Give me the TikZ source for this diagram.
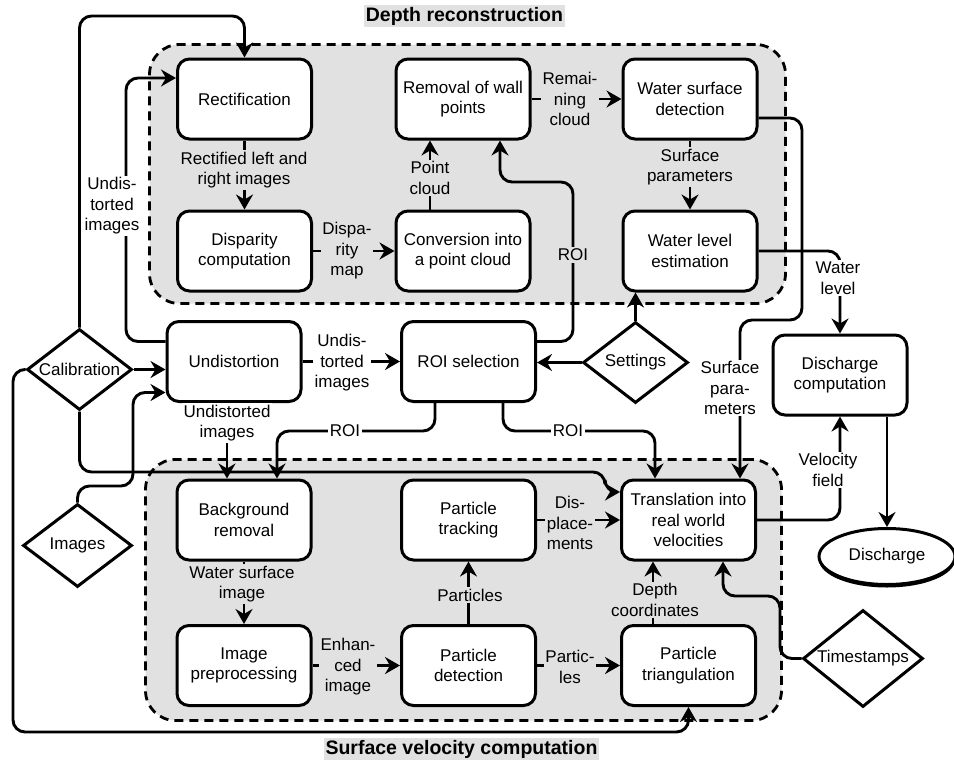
\documentclass[tikz,border=0pt]{standalone}
\usepackage{fontspec}
\setmainfont{Liberation Sans}
\usetikzlibrary{arrows.meta,shapes.geometric,calc}
\definecolor{cfill}{HTML}{E1E1E1}
\begin{document}
\begin{tikzpicture}[x=1pt,y=-1pt,
  every node/.style={font=\fontsize{17}{20.5}\selectfont},
  proc/.style={draw, line width=3pt, rounded corners=12pt, fill=white, minimum width=134pt, minimum height=80pt, align=center, inner sep=2pt},
  dia/.style={draw, diamond, line width=3pt, fill=white, inner sep=0pt, align=center},
  con/.style={line width=2.9pt, rounded corners=12pt},
  arr/.style={con, -{Stealth[length=15pt,width=17pt,inset=5pt]}},
  lblg/.style={fill=cfill, align=center, inner sep=1.5pt},
  lblw/.style={fill=white, align=center, inner sep=1.5pt},
  grp/.style={draw, dash pattern=on 9pt off 6pt, line width=2.8pt, rounded corners=30pt, fill=cfill},
  ttl/.style={fill=cfill, font=\fontsize{19.5}{22}\selectfont\bfseries, inner sep=2pt}
]
\useasboundingbox (0,0) rectangle (954,763);
\fill[white] (0,0) rectangle (954,763);

% containers
\node[grp, minimum width=636pt, minimum height=259pt] (depth) at (467.5,174) {};
\node[grp, minimum width=636pt, minimum height=261pt] (surf) at (463.5,590) {};
\node[ttl] (tdepth) at (464.5,16) {Depth reconstruction};
\node[ttl] (tsurf) at (461.5,749) {Surface velocity computation};

% process boxes
\node[proc] (rect) at (244.5,99) {Rectification};
\node[proc] (disp) at (244.5,251) {Disparity\\computation};
\node[proc] (remw) at (463,99) {Removal of wall\\points};
\node[proc] (conv) at (463,251) {Conversion into\\a point cloud};
\node[proc] (wsd) at (690,99) {Water surface\\detection};
\node[proc] (wle) at (690,251) {Water level\\estimation};
\node[proc] (undist) at (234,361.5) {Undistortion};
\node[proc] (roi) at (468.5,361.5) {ROI selection};
\node[proc] (dcomp) at (840,375) {Discharge\\computation};
\node[proc] (bg) at (244,520) {Background\\removal};
\node[proc] (prep) at (244,665.5) {Image\\preprocessing};
\node[proc] (track) at (468.5,520) {Particle\\tracking};
\node[proc] (detect) at (468.5,665.5) {Particle\\detection};
\node[proc] (trans) at (688.5,520) {Translation into\\real world\\velocities};
\node[proc] (tri) at (688.5,665.5) {Particle\\triangulation};

% inputs
\node[dia, aspect=1.3, minimum width=105pt, minimum height=81pt] (calib) at (79.5,369.5) {Calibration};
\node[dia, aspect=1.3, minimum width=109pt, minimum height=83pt] (images) at (77.5,545.5) {Images};
\node[dia, aspect=1.3, minimum width=105pt, minimum height=81pt] (settings) at (635.5,362.5) {Settings};
\node[dia, aspect=1.24, minimum width=120pt, minimum height=97pt] (ts) at (863,658.5) {Timestamps};

% output
\node[ellipse, fill=black, minimum width=136pt, minimum height=56pt, inner sep=0pt] (disshadow) at (887,559.5) {};
\node[ellipse, draw, line width=3pt, fill=white, minimum width=136pt, minimum height=56pt, inner sep=0pt] (dis) at (887,556.5) {Discharge};

% bend points
\coordinate (c1) at (160,16);
\coordinate (c2) at (126,200);
\coordinate (c8) at (573,182);
\coordinate (c12) at (133,486);
\coordinate (c14) at (345,431);
\coordinate (c15) at (568,431);
\coordinate (c16) at (605,472);
\coordinate (c20) at (802,320);
\coordinate (c27) at (780,596);
\coordinate (c28) at (13,732);

% connectors
\draw[arr] (calib.north) |- (c1) -| (rect.north);
\draw[arr] ([yshift=20pt]undist.west) -| (c2) |- ([yshift=21pt]rect.west);
\draw[arr] (rect.south) -- (disp.north);
\draw[arr] (disp.east) -- (conv.west);
\draw[arr] ([xshift=-33pt]conv.north) -- ([xshift=-33pt]remw.south);
\draw[arr] (remw.east) -- (wsd.west);
\draw[arr] (wsd.south) -- (wle.north);
\draw[arr] ([yshift=20pt]roi.east) -| (c8) -| ([xshift=37pt]remw.south);
\draw[arr] (undist.east) -- (roi.west);
\draw[arr] (settings.north) -- (settings.north |- wle.south);
\draw[arr] (settings.west) -- (settings.west -| roi.east);
\draw[arr] (calib.east) -- (calib.east -| undist.west);
\draw[arr] (images.north) |- (c12) |- ([yshift=-31pt]undist.west);
\draw[arr] ([xshift=-7pt]undist.south) -- ([xshift=-17pt]bg.north);
\draw[arr] ([xshift=-33.5pt]roi.south) |- (c14) -| ([xshift=33pt]bg.north);
\draw[arr] ([xshift=34.5pt]roi.south) |- (c15) -| ([xshift=-33.5pt]trans.north);
\draw[arr] (calib.south) |- (c16) |- ([yshift=28pt]trans.west);
\draw[arr] (track.east) -- (trans.west);
\draw[arr] (trans.east) -| (dcomp.south);
\draw[arr] (wle.east) -| (dcomp.north);
\draw[arr] ([yshift=-19pt]wsd.east) -| (c20) -| ([xshift=51.5pt]trans.north);
\draw[arr] ([xshift=47pt]dcomp.south) -- (dis.north);
\draw[arr] (detect.north) -- (track.south);
\draw[arr] (prep.east) -- (detect.west);
\draw[arr] (bg.south) -- (prep.north);
\draw[arr] (detect.east) -- (tri.west);
\draw[arr] ([xshift=-35.5pt]tri.north) -- ([xshift=-35.5pt]trans.south);
\draw[arr] (ts.west) -| (c27) -| ([xshift=34.5pt]trans.south);
\draw[arr] (calib.west) -| (c28) -| (tri.south);

% labels
\node[lblg] (l1) at (244,170) {Rectified left and\\right images};
\node[lblg] (l2) at (347,251) {Dispa-\\rity\\map};
\node[lblg] (l3) at (430,178) {Point\\cloud};
\node[lblg] (l4) at (570,99) {Remai-\\ning\\cloud};
\node[lblg] (l5) at (690,167) {Surface\\parameters};
\node[lblg] (l6) at (573,255) {ROI};
\node[lblw] (l7) at (112,206) {Undis-\\torted\\images};
\node[lblw] (l8) at (342,363) {Undis-\\torted\\images};
\node[lblw] (l9) at (227,423) {Undistorted\\images};
\node[lblw] (l10) at (345,431) {ROI};
\node[lblw] (l11) at (568,431) {ROI};
\node[lblw] (l12) at (730,388) {Surface\\para-\\meters};
\node[lblw] (l13) at (838,278) {Water\\level};
\node[lblw] (l14) at (828,470) {Velocity\\field};
\node[lblg] (l15) at (570,523) {Dis-\\place-\\ments};
\node[lblg] (l16) at (470,595) {Particles};
\node[lblg] (l17) at (348,667) {Enhan-\\ced\\image};
\node[lblg] (l18) at (242,584) {Water surface\\image};
\node[lblg] (l19) at (570,667) {Partic-\\les};
\node[lblg] (l20) at (655,600) {Depth\\coordinates};
\end{tikzpicture}
\end{document}
